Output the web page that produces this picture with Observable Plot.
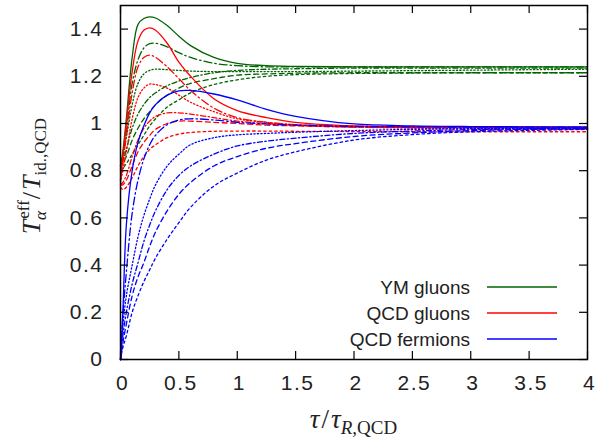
<!DOCTYPE html>
<html>
<head>
<meta charset="utf-8">
<script src="https://cdn.jsdelivr.net/npm/d3@7"></script>
<script src="https://cdn.jsdelivr.net/npm/@observablehq/plot@0.6"></script>
<style>
  html, body { margin: 0; padding: 0; background: #fff; }
</style>
</head>
<body>
<div id="chart"></div>
<script>
// Time axis samples, tau / tau_R,QCD
const tau = [0, 0.02, 0.05, 0.1, 0.15, 0.2, 0.25, 0.3, 0.4, 0.5, 0.6, 0.8, 1.0, 1.25, 1.5, 2.0, 2.5, 3.0, 4.0];

// Effective temperatures T_alpha^eff / T_id.,QCD, one row per moment alpha
const ymGluons = [
  [0.82, 0.88, 1.02, 1.28, 1.42, 1.445, 1.452, 1.447, 1.415, 1.37, 1.33, 1.28, 1.255, 1.245, 1.242, 1.24, 1.24, 1.24, 1.24],
  [0.82, 0.87, 0.97, 1.17, 1.27, 1.32, 1.338, 1.34, 1.325, 1.30, 1.28, 1.255, 1.245, 1.24, 1.24, 1.24, 1.24, 1.24, 1.24],
  [0.82, 0.86, 0.94, 1.08, 1.17, 1.21, 1.225, 1.23, 1.228, 1.225, 1.222, 1.22, 1.22, 1.22, 1.22, 1.222, 1.224, 1.226, 1.23],
  [0.82, 0.84, 0.89, 0.98, 1.04, 1.08, 1.11, 1.13, 1.16, 1.18, 1.195, 1.215, 1.225, 1.23, 1.232, 1.235, 1.235, 1.235, 1.235],
  [0.81, 0.83, 0.86, 0.93, 0.98, 1.02, 1.05, 1.08, 1.12, 1.15, 1.17, 1.19, 1.205, 1.21, 1.213, 1.215, 1.215, 1.215, 1.215],
  [0.80, 0.81, 0.83, 0.87, 0.91, 0.95, 0.99, 1.02, 1.07, 1.10, 1.13, 1.165, 1.185, 1.20, 1.207, 1.212, 1.214, 1.215, 1.215]
];
const qcdGluons = [
  [0.76, 0.86, 1.00, 1.22, 1.35, 1.395, 1.405, 1.395, 1.34, 1.26, 1.20, 1.105, 1.055, 1.025, 1.005, 0.99, 0.986, 0.985, 0.985],
  [0.76, 0.83, 0.95, 1.13, 1.24, 1.28, 1.29, 1.28, 1.24, 1.19, 1.14, 1.065, 1.025, 1.005, 0.995, 0.987, 0.985, 0.985, 0.985],
  [0.75, 0.80, 0.88, 1.02, 1.11, 1.15, 1.167, 1.165, 1.15, 1.12, 1.09, 1.05, 1.02, 1.005, 0.995, 0.985, 0.98, 0.978, 0.975],
  [0.74, 0.75, 0.78, 0.86, 0.93, 0.98, 1.01, 1.03, 1.045, 1.045, 1.04, 1.025, 1.01, 1.00, 0.992, 0.985, 0.983, 0.982, 0.982],
  [0.74, 0.74, 0.76, 0.82, 0.88, 0.92, 0.95, 0.975, 1.00, 1.01, 1.01, 1.005, 1.00, 0.993, 0.99, 0.985, 0.983, 0.982, 0.982],
  [0.73, 0.72, 0.73, 0.77, 0.82, 0.86, 0.89, 0.91, 0.94, 0.955, 0.962, 0.967, 0.968, 0.968, 0.967, 0.966, 0.965, 0.965, 0.965]
];
const qcdFermions = [
  [0, 0.20, 0.57, 0.80, 0.92, 0.99, 1.045, 1.08, 1.12, 1.138, 1.14, 1.125, 1.10, 1.06, 1.03, 0.998, 0.99, 0.987, 0.985],
  [0, 0.18, 0.37, 0.62, 0.76, 0.85, 0.91, 0.95, 0.995, 1.015, 1.02, 1.015, 1.005, 0.998, 0.993, 0.988, 0.986, 0.985, 0.985],
  [0, 0.14, 0.27, 0.40, 0.52, 0.61, 0.68, 0.74, 0.82, 0.87, 0.91, 0.94, 0.952, 0.958, 0.963, 0.97, 0.975, 0.978, 0.98],
  [0, 0.10, 0.20, 0.32, 0.41, 0.50, 0.57, 0.63, 0.72, 0.78, 0.82, 0.87, 0.905, 0.925, 0.938, 0.958, 0.968, 0.974, 0.98],
  [0, 0.07, 0.15, 0.27, 0.35, 0.41, 0.48, 0.54, 0.63, 0.70, 0.75, 0.82, 0.86, 0.895, 0.915, 0.945, 0.96, 0.97, 0.978],
  [0, 0.05, 0.10, 0.20, 0.27, 0.33, 0.38, 0.43, 0.51, 0.58, 0.645, 0.735, 0.79, 0.845, 0.88, 0.93, 0.953, 0.965, 0.975]
];

const speciesNames = ["YM gluons", "QCD gluons", "QCD fermions"];
const speciesColors = ["#006400", "#ff0000", "#0000ff"];
const speciesCurves = [ymGluons, qcdGluons, qcdFermions];

// Dash pattern for each moment (same order as the rows above)
const dashPatterns = [null, "8,3,1.5,3", "1.3,2.2", "5,2.5,1.3,2.5", "5,3.5", "2.5,3"];

const xTicks = [0, 0.5, 1, 1.5, 2, 2.5, 3, 3.5, 4];
const yTicks = [0, 0.2, 0.4, 0.6, 0.8, 1, 1.2, 1.4];

const W = 614, H = 443;
const mL = 120, mR = 27, mT = 5, mB = 84;
const innerW = W - mL - mR, innerH = H - mT - mB;
const tickLen = 8;
const fontTick = "Liberation Sans, Arial, Helvetica, sans-serif";

const lineMarks = [];
speciesCurves.forEach((rows, s) => {
  rows.forEach((ys, k) => {
    const pts = tau.map((t, i) => ({t, v: ys[i]}));
    lineMarks.push(Plot.line(pts, {
      x: "t", y: "v",
      stroke: speciesColors[s],
      strokeWidth: 1.3,
      strokeDasharray: dashPatterns[k] ?? undefined,
      curve: "catmull-rom"
    }));
  });
});

const chart = Plot.plot({
  width: W, height: H,
  marginLeft: mL, marginRight: mR, marginTop: mT, marginBottom: mB,
  style: {fontFamily: fontTick, fontSize: "21px", color: "#222", background: "#fff", overflow: "visible"},
  x: {domain: [0, 4], ticks: xTicks, tickFormat: d => String(d), label: null},
  y: {domain: [0, 1.5], ticks: yTicks, tickFormat: d => String(d), label: null},
  marks: [
    ...lineMarks,
    // inward ticks on all four sides
    Plot.tickX(xTicks, {x: d => d, insetTop: innerH - tickLen, stroke: "#000", strokeWidth: 1.2}),
    Plot.tickX(xTicks, {x: d => d, insetBottom: innerH - tickLen, stroke: "#000", strokeWidth: 1.2}),
    Plot.tickY(yTicks, {y: d => d, insetRight: innerW - tickLen, stroke: "#000", strokeWidth: 1.2}),
    Plot.tickY(yTicks, {y: d => d, insetLeft: innerW - tickLen, stroke: "#000", strokeWidth: 1.2}),
    Plot.axisX({ticks: xTicks, tickSize: 0, tickPadding: 16, tickFormat: d => String(d), fontSize: 21, dx: 2, label: null}),
    Plot.axisY({ticks: yTicks, tickSize: 0, tickPadding: 17, tickFormat: d => String(d), fontSize: 21, label: null}),
    Plot.frame({stroke: "#000", strokeWidth: 1.5})
  ]
});

document.getElementById("chart").appendChild(chart);
d3.select(chart).selectAll("[aria-label$='tick label'] text").style("letter-spacing", "1.5px");

// Axis titles with sub- and superscripts, and the legend
const svg = d3.select(chart);
const serif = "Liberation Serif, Times New Roman, serif";

const xl = svg.append("text")
  .attr("x", mL + innerW / 2).attr("y", 428)
  .attr("text-anchor", "middle")
  .attr("font-family", serif).attr("font-size", 27).attr("fill", "#222");
xl.append("tspan").attr("font-style", "italic").text("τ");
xl.append("tspan").attr("dx", 2).text("/");
xl.append("tspan").attr("dx", 2).attr("font-style", "italic").text("τ");
xl.append("tspan").attr("font-size", 19).attr("dy", 6).attr("font-style", "italic").text("R");
xl.append("tspan").attr("font-size", 19).text(",QCD");

const yl = svg.append("text")
  .attr("transform", `translate(40, 176) rotate(-90)`)
  .attr("text-anchor", "middle")
  .attr("font-family", serif).attr("font-size", 26).attr("fill", "#222");
yl.append("tspan").attr("font-style", "italic").text("T");
yl.append("tspan").attr("font-size", 17).attr("dy", -11).attr("dx", 1).text("eff");
yl.append("tspan").attr("font-size", 17).attr("font-style", "italic").attr("dx", -20).attr("dy", 17).text("α");
yl.append("tspan").attr("dx", 12).attr("dy", -6).text("/");
yl.append("tspan").attr("dx", 2).attr("font-style", "italic").text("T");
yl.append("tspan").attr("font-size", 17).attr("dy", 6).text("id.,QCD");

const lg = svg.append("g").attr("font-family", fontTick).attr("font-size", 19).attr("fill", "#222");
speciesNames.forEach((name, i) => {
  const y = 287 + i * 26;
  lg.append("text").attr("x", 470).attr("y", y + 7).attr("text-anchor", "end").text(name);
  lg.append("line").attr("x1", 487).attr("x2", 557).attr("y1", y).attr("y2", y)
    .attr("stroke", speciesColors[i]).attr("stroke-width", 1.3);
});
</script>
</body>
</html>
